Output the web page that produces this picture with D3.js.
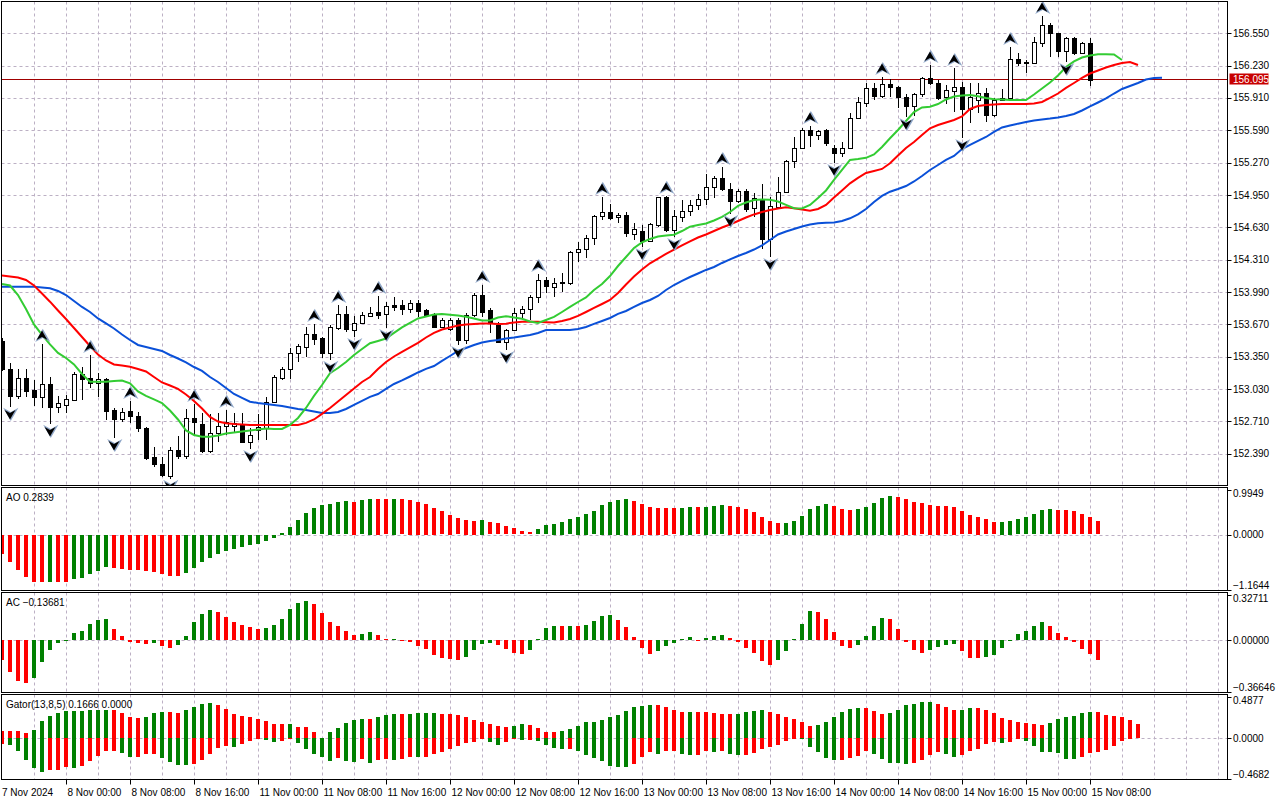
<!DOCTYPE html>
<html>
<head>
<meta charset="utf-8">
<title>USDJPY H1</title>
<script src="https://cdn.jsdelivr.net/npm/d3@7"></script>
<style>
  html, body { margin: 0; padding: 0; background: #fff; }
  svg { display: block; font-family: "Liberation Sans", Arial, sans-serif; }
</style>
</head>
<body>
<script>
// ---- data (H1 bars, first bar 7 Nov 2024 16:00) ----
const open = [
153.507,153.230,152.963,153.141,153.022,152.953,153.081,152.854,152.874,152.923,
153.180,153.141,153.091,153.131,152.824,152.735,152.814,152.765,152.646,152.359,
152.290,152.171,152.428,152.369,152.745,152.686,152.419,152.597,152.666,152.666,
152.676,152.508,152.626,152.646,152.903,153.141,153.230,153.388,153.447,153.576,
153.536,153.388,153.635,153.774,153.615,153.685,153.754,153.793,153.774,153.863,
153.863,153.823,153.882,153.813,153.774,153.645,153.625,153.714,153.516,153.764,
153.961,153.813,153.665,153.497,153.615,153.783,153.823,153.942,154.110,154.041,
154.080,154.080,154.387,154.416,154.525,154.743,154.782,154.733,154.753,154.565,
154.594,154.496,154.654,154.931,154.604,154.733,154.792,154.852,154.911,155.030,
155.119,155.010,154.891,154.990,154.822,154.901,154.515,154.832,154.980,155.287,
155.415,155.593,155.544,155.593,155.415,155.366,155.415,155.712,155.860,156.009,
155.930,156.048,156.019,155.920,155.831,155.949,156.108,156.058,155.920,155.979,
156.019,155.801,155.890,155.959,155.742,155.890,155.910,156.295,156.256,156.256,
156.454,156.632,156.553,156.375,156.503,156.355,156.454,156.095];
const high = [
153.536,153.289,153.230,153.230,153.121,153.477,153.150,152.963,152.972,153.200,
153.249,153.368,153.190,153.141,152.844,152.844,152.913,152.804,152.656,152.458,
152.359,152.458,152.567,152.834,152.883,152.794,152.785,152.794,152.824,152.794,
152.794,152.646,152.785,152.953,153.170,153.249,153.437,153.477,153.645,153.675,
153.546,153.665,153.863,153.853,153.754,153.793,153.843,153.952,153.892,153.942,
153.912,153.912,153.912,153.823,153.783,153.734,153.734,153.734,153.783,153.981,
154.060,153.833,153.694,153.625,153.833,153.853,153.961,154.169,154.139,154.130,
154.179,154.397,154.486,154.555,154.753,154.931,154.861,154.772,154.782,154.674,
154.654,154.674,154.931,154.941,154.802,154.901,154.901,154.960,155.158,155.138,
155.227,155.069,155.010,155.010,154.970,155.059,154.931,155.128,155.297,155.524,
155.613,155.633,155.593,155.603,155.445,155.475,155.761,155.920,156.058,156.058,
156.117,156.098,156.028,155.949,155.959,156.117,156.236,156.088,156.038,156.206,
156.068,156.058,156.058,156.009,155.910,155.999,156.414,156.355,156.286,156.513,
156.721,156.652,156.553,156.513,156.513,156.464,156.503,156.097];
const low = [
153.210,152.854,152.933,152.953,152.864,152.844,152.686,152.794,152.794,152.913,
152.923,153.042,152.953,152.725,152.547,152.705,152.696,152.607,152.330,152.260,
152.161,152.142,152.339,152.339,152.577,152.399,152.399,152.508,152.577,152.597,
152.498,152.438,152.527,152.527,152.893,153.121,153.131,153.299,153.348,153.467,
153.338,153.319,153.615,153.596,153.546,153.675,153.744,153.724,153.635,153.803,
153.764,153.783,153.744,153.744,153.635,153.635,153.605,153.467,153.477,153.744,
153.744,153.586,153.487,153.417,153.605,153.734,153.714,153.882,153.981,153.942,
153.991,154.060,154.288,154.327,154.456,154.703,154.703,154.674,154.535,154.505,
154.436,154.486,154.634,154.585,154.535,154.683,154.743,154.802,154.852,154.921,
154.990,154.763,154.871,154.782,154.733,154.416,154.337,154.822,154.970,155.217,
155.405,155.425,155.494,155.435,155.267,155.326,155.405,155.702,155.821,155.890,
155.910,155.920,155.811,155.722,155.732,155.920,156.038,155.890,155.850,155.771,
155.514,155.663,155.761,155.672,155.722,155.890,155.900,156.226,156.157,156.256,
156.414,156.315,156.315,156.266,156.335,156.345,156.028,156.093];
const close = [
153.230,152.963,153.141,153.012,152.953,153.081,152.854,152.893,152.933,153.180,
153.131,153.091,153.131,152.814,152.735,152.804,152.765,152.646,152.349,152.290,
152.181,152.428,152.369,152.745,152.705,152.419,152.597,152.666,152.705,152.696,
152.508,152.577,152.656,152.903,153.150,153.230,153.388,153.457,153.576,153.526,
153.388,153.645,153.774,153.625,153.685,153.764,153.783,153.764,153.853,153.843,
153.823,153.882,153.803,153.764,153.645,153.714,153.714,153.516,153.764,153.961,
153.793,153.694,153.497,153.615,153.783,153.823,153.942,154.110,154.050,154.080,
154.085,154.387,154.416,154.525,154.743,154.782,154.723,154.753,154.575,154.614,
154.496,154.664,154.931,154.604,154.743,154.792,154.852,154.911,155.030,155.119,
155.010,154.891,154.990,154.812,154.921,154.515,154.842,154.980,155.287,155.415,
155.593,155.544,155.583,155.465,155.366,155.415,155.712,155.870,156.009,155.930,
156.048,156.019,155.920,155.831,155.949,156.108,156.058,155.910,155.989,156.019,
155.801,155.920,155.959,155.742,155.890,155.910,156.295,156.256,156.266,156.464,
156.632,156.553,156.375,156.503,156.355,156.454,156.092,156.095];

// Alligator (already shifted forward: jaw 8, teeth 5, lips 3 bars)
const jaw = [
154.044,154.044,154.044,154.044,154.044,154.036,154.028,154.001,153.961,153.902,
153.843,153.793,153.729,153.680,153.630,153.571,153.516,153.467,153.447,153.427,
153.408,153.368,153.333,153.294,153.249,153.210,153.150,153.101,153.042,152.982,
152.943,152.906,152.893,152.883,152.874,152.864,152.849,152.834,152.824,152.809,
152.794,152.794,152.804,152.834,152.874,152.913,152.953,152.982,153.032,153.081,
153.116,153.155,153.195,153.230,153.259,153.309,153.358,153.408,153.437,153.467,
153.492,153.507,153.516,153.531,153.541,153.553,153.566,153.586,153.615,153.615,
153.615,153.615,153.625,153.645,153.675,153.704,153.734,153.774,153.803,153.843,
153.882,153.912,153.952,154.011,154.060,154.100,154.139,154.174,154.209,154.238,
154.278,154.313,154.347,154.377,154.411,154.451,154.505,154.560,154.589,154.614,
154.639,154.659,154.671,154.676,154.678,154.693,154.720,154.758,154.812,154.881,
154.941,154.983,155.010,155.039,155.084,155.138,155.198,155.247,155.297,155.336,
155.405,155.445,155.485,155.524,155.574,155.618,155.638,155.656,155.672,155.687,
155.697,155.706,155.717,155.732,155.752,155.786,155.826,155.865,155.905,155.954,
155.999,156.028,156.058,156.093,156.108,156.111];
const teeth = [
154.154,154.144,154.135,154.110,154.055,153.976,153.895,153.808,153.724,153.635,
153.546,153.457,153.373,153.314,153.274,153.264,153.252,153.230,153.205,153.150,
153.096,153.066,153.032,152.977,152.913,152.839,152.755,152.710,152.693,152.686,
152.681,152.676,152.676,152.676,152.676,152.676,152.676,152.676,152.696,152.730,
152.785,152.844,152.908,152.972,153.037,153.101,153.150,153.230,153.299,153.353,
153.398,153.442,153.487,153.541,153.586,153.620,153.640,153.660,153.670,153.675,
153.680,153.680,153.675,153.678,153.689,153.697,153.697,153.696,153.692,153.689,
153.704,153.724,153.754,153.793,153.833,153.872,153.912,153.981,154.065,154.144,
154.214,154.275,154.322,154.367,154.409,154.451,154.491,154.530,154.560,154.594,
154.629,154.659,154.693,154.728,154.758,154.782,154.802,154.817,154.829,154.819,
154.807,154.795,154.812,154.852,154.926,154.995,155.066,155.119,155.168,155.188,
155.208,155.264,155.341,155.415,155.475,155.544,155.610,155.643,155.667,155.692,
155.727,155.801,155.831,155.841,155.845,155.850,155.850,155.850,155.850,155.855,
155.870,155.910,155.954,156.009,156.058,156.108,156.152,156.182,156.211,156.236,
156.256,156.266,156.236];
const lips = [
154.070,154.055,153.961,153.823,153.670,153.566,153.472,153.388,153.338,153.274,
153.180,153.104,153.104,153.104,153.111,153.116,153.088,153.007,152.963,152.928,
152.893,152.819,152.730,152.621,152.577,152.560,152.560,152.572,152.592,152.602,
152.611,152.621,152.631,152.641,152.636,152.636,152.676,152.745,152.844,152.963,
153.071,153.187,153.239,153.299,153.368,153.427,153.484,153.507,153.531,153.586,
153.640,153.685,153.729,153.749,153.769,153.774,153.766,153.759,153.746,153.729,
153.709,153.709,153.739,153.752,153.739,153.726,153.699,153.685,153.714,153.744,
153.793,153.843,153.892,153.937,154.011,154.070,154.149,154.248,154.337,154.426,
154.481,154.515,154.540,154.550,154.558,154.594,154.637,154.654,154.669,154.698,
154.733,154.782,154.842,154.876,154.901,154.906,154.903,154.886,154.852,154.819,
154.817,154.852,154.921,154.995,155.099,155.198,155.297,155.306,155.318,155.351,
155.425,155.511,155.593,155.682,155.771,155.816,155.824,155.850,155.895,155.924,
155.935,155.939,155.927,155.910,155.897,155.894,155.890,155.890,155.890,155.944,
156.004,156.063,156.132,156.216,156.271,156.310,156.330,156.342,156.342,156.340,
156.286];

// bar indices carrying a fractal
const fractalUp = [5,11,16,24,28,39,42,47,60,67,75,83,90,101,110,116,119,126,130];
const fractalDown = [1,6,14,21,31,41,44,48,57,63,80,84,91,96,104,113,120,133];

const aoValues = [
-0.40,-0.58,-0.75,-0.89,-1.00,-1.008,-1.005,-1.01,-1.012,-0.94,
-0.92,-0.835,-0.76,-0.69,-0.71,-0.73,-0.75,-0.755,-0.78,-0.80,
-0.835,-0.87,-0.885,-0.81,-0.705,-0.575,-0.49,-0.40,-0.34,-0.29,
-0.25,-0.215,-0.19,-0.13,-0.06,0.035,0.17,0.32,0.45,0.56,
0.63,0.655,0.69,0.71,0.705,0.73,0.77,0.765,0.755,0.77,
0.75,0.74,0.70,0.655,0.57,0.50,0.42,0.35,0.31,0.295,
0.31,0.265,0.245,0.18,0.135,0.07,0.05,0.115,0.20,0.225,
0.275,0.33,0.375,0.44,0.50,0.635,0.70,0.74,0.765,0.72,
0.655,0.59,0.57,0.568,0.566,0.57,0.59,0.585,0.59,0.605,
0.625,0.62,0.58,0.54,0.48,0.37,0.29,0.245,0.25,0.29,
0.40,0.55,0.61,0.655,0.61,0.55,0.525,0.55,0.59,0.68,
0.785,0.83,0.805,0.765,0.70,0.67,0.635,0.61,0.608,0.59,
0.50,0.41,0.375,0.33,0.265,0.27,0.29,0.325,0.37,0.43,
0.52,0.54,0.52,0.518,0.50,0.43,0.37,0.2839];
const acValues = [
-0.138,-0.227,-0.29,-0.304,-0.269,-0.157,-0.072,-0.021,-0.002,0.051,
0.061,0.114,0.143,0.145,0.079,0.030,-0.016,-0.021,-0.030,-0.021,
-0.044,-0.058,-0.037,0.030,0.128,0.185,0.213,0.199,0.164,0.128,
0.107,0.093,0.079,0.086,0.107,0.150,0.220,0.262,0.276,0.255,
0.192,0.128,0.100,0.065,0.037,0.044,0.058,0.037,0.008,0.009,
-0.005,-0.015,-0.044,-0.065,-0.107,-0.128,-0.136,-0.137,-0.121,-0.072,
-0.030,-0.023,-0.037,-0.065,-0.093,-0.100,-0.072,0.007,0.086,0.100,
0.099,0.100,0.099,0.107,0.135,0.171,0.178,0.143,0.093,0.023,
-0.058,-0.100,-0.079,-0.044,-0.023,0.007,0.019,-0.002,0.014,0.028,
0.035,0.014,-0.012,-0.054,-0.089,-0.145,-0.173,-0.138,-0.075,0.007,
0.112,0.203,0.196,0.147,0.056,-0.040,-0.054,-0.033,0.028,0.098,
0.154,0.147,0.077,-0.012,-0.068,-0.089,-0.068,-0.047,-0.033,-0.026,
-0.075,-0.124,-0.125,-0.117,-0.103,-0.054,0.002,0.044,0.065,0.100,
0.128,0.100,0.051,0.023,-0.012,-0.061,-0.096,-0.13681];
const gatorUpper = [
0.088,0.088,0.088,0.058,0.096,0.200,0.257,0.296,0.315,0.316,
0.317,0.326,0.327,0.328,0.327,0.292,0.246,0.234,0.246,0.292,
0.303,0.302,0.292,0.326,0.361,0.395,0.407,0.384,0.338,0.280,
0.257,0.246,0.223,0.200,0.165,0.164,0.166,0.131,0.130,0.073,
0.000,0.073,0.119,0.177,0.211,0.223,0.222,0.246,0.269,0.280,
0.279,0.280,0.290,0.291,0.292,0.280,0.279,0.269,0.246,0.211,
0.188,0.165,0.142,0.131,0.142,0.165,0.154,0.119,0.073,0.072,
0.084,0.108,0.142,0.188,0.189,0.211,0.246,0.269,0.315,0.361,
0.372,0.384,0.383,0.361,0.326,0.303,0.304,0.303,0.303,0.292,
0.280,0.280,0.281,0.303,0.315,0.326,0.303,0.280,0.246,0.223,
0.188,0.142,0.154,0.188,0.246,0.303,0.338,0.349,0.348,0.315,
0.280,0.292,0.326,0.384,0.395,0.418,0.419,0.395,0.361,0.326,
0.327,0.349,0.348,0.326,0.292,0.240,0.215,0.192,0.180,0.169,
0.157,0.180,0.226,0.250,0.261,0.296,0.307,0.306,0.273,0.261,
0.250,0.215,0.1666];
const gatorLower = [
-0.073,-0.075,-0.154,-0.257,-0.349,-0.388,-0.372,-0.371,-0.338,-0.349,
-0.326,-0.269,-0.203,-0.150,-0.147,-0.173,-0.219,-0.218,-0.188,-0.187,
-0.226,-0.276,-0.315,-0.316,-0.299,-0.253,-0.188,-0.119,-0.096,-0.107,
-0.069,-0.038,-0.015,-0.027,-0.050,-0.038,-0.005,-0.058,-0.127,-0.188,
-0.223,-0.265,-0.226,-0.265,-0.280,-0.242,-0.288,-0.253,-0.242,-0.257,
-0.242,-0.219,-0.223,-0.222,-0.188,-0.165,-0.131,-0.096,-0.061,-0.050,
-0.012,-0.050,-0.084,-0.050,-0.004,-0.027,-0.026,-0.035,-0.084,-0.119,
-0.131,-0.130,-0.154,-0.200,-0.234,-0.269,-0.326,-0.338,-0.339,-0.303,
-0.223,-0.165,-0.188,-0.154,-0.153,-0.188,-0.200,-0.199,-0.154,-0.165,
-0.154,-0.188,-0.200,-0.199,-0.177,-0.131,-0.108,-0.084,-0.038,-0.010,
-0.015,-0.108,-0.165,-0.234,-0.257,-0.256,-0.234,-0.211,-0.154,-0.188,
-0.246,-0.292,-0.293,-0.303,-0.292,-0.257,-0.200,-0.165,-0.188,-0.223,
-0.200,-0.154,-0.131,-0.073,-0.050,-0.058,-0.046,-0.008,-0.035,-0.092,
-0.161,-0.162,-0.173,-0.242,-0.243,-0.219,-0.173,-0.161,-0.138,-0.092,
-0.035];

// axis tick labels
const priceTicks = [156.550,156.230,155.910,155.590,155.270,154.950,154.630,154.310,153.990,153.670,153.350,153.030,152.710,152.390];
const aoTicks = [0.9949, 0, -1.1644];
const acTicks = [0.32711, 0, -0.36646];
const gatorTicks = [0.4877, 0, -0.4682];

// ---- layout ----
const GREEN = '#008000', RED = '#ff0000';
const left = 1.5, right = 1227.5;
const pMain = {top: 1.5, bottom: 485.5};
const pAO = {top: 487.5, bottom: 590.5};
const pAC = {top: 592.5, bottom: 692.5};
const pGator = {top: 694.5, bottom: 779.5};

// hourly bars, no weekends
const barTimes = d3.timeHour.range(new Date(2024, 10, 7, 16), new Date(2024, 10, 16))
  .filter(d => d.getDay() !== 0 && d.getDay() !== 6)
  .slice(0, close.length);

let svg = d3.select('body').append('svg').attr('width', 1280).attr('height', 800);

let x = d3.scaleLinear().domain([0, 153]).range([2, 1226]);
let yMain = d3.scaleLinear().domain([152.072, 156.879]).range([486, 0]);
let yAO = d3.scaleLinear().domain([aoTicks[2], aoTicks[0]]).range([589, 488]);
let yAC = d3.scaleLinear().domain([acTicks[2], acTicks[0]]).range([692.5, 593.5]);
let yGator = d3.scaleLinear().domain([gatorTicks[2], gatorTicks[0]]).range([779, 696]);

// green when the value (or its size) grows, red when it shrinks
function barColors(vals, useAbs) {
  let cols = [];
  vals.forEach((v, i) => {
    if (i === 0) { cols.push(RED); return; }
    let a = useAbs ? Math.abs(v) : v, b = useAbs ? Math.abs(vals[i - 1]) : vals[i - 1];
    cols.push(a > b ? GREEN : (a < b ? RED : cols[i - 1]));
  });
  return cols;
}

let defs = svg.append('defs');
function clipFor(name, p) {
  defs.append('clipPath').attr('id', name).append('rect')
    .attr('x', left + 0.5).attr('y', p.top + 0.5)
    .attr('width', right - left - 1).attr('height', p.bottom - p.top - 1);
  return 'url(#' + name + ')';
}

// grid
const gridCol = '#bcb0c4';
let gridIdx = d3.range(4, 153, 4);
[pMain, pAO, pAC, pGator].forEach(p => {
  svg.append('g').selectAll('line').data(gridIdx).join('line')
    .attr('x1', i => Math.round(x(i)) + 0.5).attr('x2', i => Math.round(x(i)) + 0.5)
    .attr('y1', p.top).attr('y2', p.bottom)
    .attr('stroke', gridCol).attr('stroke-dasharray', '3,3');
});
svg.append('g').selectAll('line').data(priceTicks).join('line')
  .attr('x1', left).attr('x2', right)
  .attr('y1', d => Math.round(yMain(d)) + 0.5).attr('y2', d => Math.round(yMain(d)) + 0.5)
  .attr('stroke', gridCol).attr('stroke-dasharray', '3,3');
[[pAO, yAO], [pAC, yAC], [pGator, yGator]].forEach(([p, y]) => {
  svg.append('line').attr('x1', left).attr('x2', right)
    .attr('y1', Math.round(y(0)) + 0.5).attr('y2', Math.round(y(0)) + 0.5)
    .attr('stroke', gridCol).attr('stroke-dasharray', '3,3');
});

// ---- main chart ----
let gMain = svg.append('g').attr('clip-path', clipFor('clipMain', pMain));

// bid line
let lastPrice = close[close.length - 1];
gMain.append('line').attr('x1', left).attr('x2', right)
  .attr('y1', Math.round(yMain(lastPrice)) + 0.5).attr('y2', Math.round(yMain(lastPrice)) + 0.5)
  .attr('stroke', '#a00000').attr('stroke-width', 1);

// candles
let candles = gMain.append('g').attr('shape-rendering', 'crispEdges');
close.forEach((c, i) => {
  let cx = Math.round(x(i)) + 0.5;
  candles.append('line').attr('x1', cx).attr('x2', cx)
    .attr('y1', yMain(high[i])).attr('y2', yMain(low[i])).attr('stroke', '#000');
  let yo = yMain(open[i]), yc = yMain(close[i]);
  candles.append('rect')
    .attr('x', cx - 2).attr('width', 4)
    .attr('y', Math.round(Math.min(yo, yc)) + 0.5)
    .attr('height', Math.max(0, Math.round(Math.abs(yo - yc))))
    .attr('fill', c >= open[i] ? '#fff' : '#000').attr('stroke', '#000');
});

// alligator lines
let line = y => d3.line().x((d, i) => x(i)).y(d => y(d));
[[jaw, '#0a50d8'], [teeth, '#ff0000'], [lips, '#33cc33']].forEach(([arr, col]) => {
  gMain.append('path').datum(arr).attr('d', line(yMain))
    .attr('fill', 'none').attr('stroke', col).attr('stroke-width', 2);
});

// fractals
const upArrow = 'M0,-5L5.5,4.5L0,1.5L-5.5,4.5Z';
const downArrow = 'M0,5L5.5,-4.5L0,-1.5L-5.5,-4.5Z';
function drawFractal(i, shape, cy) {
  let g = gMain.append('g').attr('transform', 'translate(' + x(i) + ',' + cy + ')');
  g.append('path').attr('d', shape).attr('fill', 'none').attr('stroke', '#8ea6c8').attr('stroke-width', 1.6)
    .attr('transform', 'translate(0.8,0)');
  g.append('path').attr('d', shape).attr('fill', '#000');
}
fractalUp.forEach(i => drawFractal(i, upArrow, yMain(high[i]) - 8.5));
fractalDown.forEach(i => drawFractal(i, downArrow, yMain(low[i]) + 7.5));

// ---- histograms ----
function histogram(vals, cols, y, p, name) {
  svg.append('g').attr('clip-path', clipFor(name, p)).attr('shape-rendering', 'crispEdges')
    .selectAll('rect').data(vals).join('rect')
    .attr('x', (d, i) => Math.round(x(i)) - 2).attr('width', 4)
    .attr('y', d => Math.round(Math.min(y(d), y(0))))
    .attr('height', d => Math.max(1, Math.round(Math.abs(y(d) - y(0)))))
    .attr('fill', (d, i) => cols[i]);
}
histogram(aoValues, barColors(aoValues, false), yAO, pAO, 'clipAO');
histogram(acValues, barColors(acValues, false), yAC, pAC, 'clipAC');
histogram(gatorUpper, barColors(gatorUpper, true), yGator, pGator, 'clipGU');
histogram(gatorLower, barColors(gatorLower, true), yGator, pGator, 'clipGL');

// panel frames
[pMain, pAO, pAC, pGator].forEach(p => {
  svg.append('rect').attr('x', left).attr('y', p.top)
    .attr('width', right - left).attr('height', p.bottom - p.top)
    .attr('fill', 'none').attr('stroke', '#000').attr('stroke-width', 1);
});

// panel titles
let f4 = d3.format('.4f'), f5 = d3.format('.5f');
let lastIdx = gatorUpper.length - 1;
let lowerNow = gatorLower[lastIdx] === undefined ? 0 : Math.abs(gatorLower[lastIdx]);
[
  ['AO ' + f4(aoValues[aoValues.length - 1]), pAO],
  ['AC ' + f5(acValues[acValues.length - 1]), pAC],
  ['Gator(13,8,5) ' + f4(gatorUpper[lastIdx]) + ' ' + f4(lowerNow), pGator]
].forEach(([t, p]) => {
  svg.append('text').attr('x', 6).attr('y', p.top + 10).attr('dy', '0.35em')
    .attr('font-size', 10).attr('fill', '#000').text(t);
});

// ---- right axis ----
let axisG = svg.append('g').attr('font-size', 10).attr('fill', '#000');
function tickAt(y) {
  axisG.append('line').attr('x1', right).attr('x2', right + 4)
    .attr('y1', Math.round(y) + 0.5).attr('y2', Math.round(y) + 0.5).attr('stroke', '#000');
}
priceTicks.forEach(v => {
  tickAt(yMain(v));
  axisG.append('text').attr('x', 1233).attr('y', yMain(v)).attr('dy', '0.35em').text(d3.format('.3f')(v));
});
[[aoTicks, yAO, pAO, f4], [acTicks, yAC, pAC, f5], [gatorTicks, yGator, pGator, f4]].forEach(([ticks, y, p, fmt]) => {
  ticks.forEach((v, k) => {
    let ty = k === 0 ? p.top + 2 : (k === 2 ? p.bottom - 1 : y(v));
    tickAt(ty);
    let ly = k === 0 ? p.top + 6 : (k === 2 ? p.bottom - 5 : y(v));
    axisG.append('text').attr('x', 1233).attr('y', ly).attr('dy', '0.35em').text(fmt(v));
  });
});

// bid price box
let bidY = yMain(lastPrice);
svg.append('rect').attr('x', 1229.5).attr('y', Math.round(bidY) - 5.5).attr('width', 39).attr('height', 11)
  .attr('fill', '#c80000');
svg.append('text').attr('x', 1233).attr('y', bidY).attr('dy', '0.35em')
  .attr('font-size', 10).attr('fill', '#fff').text(d3.format('.3f')(lastPrice));

// ---- time axis ----
let fmtFirst = d3.timeFormat('%-d %b %Y'), fmtTime = d3.timeFormat('%-d %b %H:%M');
let timeG = svg.append('g').attr('font-size', 10).attr('fill', '#000');
barTimes.forEach((t, i) => {
  if (i !== 0 && t.getHours() % 8 !== 0) return;
  let tx = Math.round(x(i)) + 0.5;
  if (i !== 0) {
    timeG.append('line').attr('x1', tx).attr('x2', tx).attr('y1', pGator.bottom).attr('y2', pGator.bottom + 5)
      .attr('stroke', '#000');
  }
  timeG.append('text').attr('x', i === 0 ? 2 : tx + 1).attr('y', 792).attr('dy', '0.35em')
    .text(i === 0 ? fmtFirst(t) : fmtTime(t));
});
</script>
</body>
</html>
